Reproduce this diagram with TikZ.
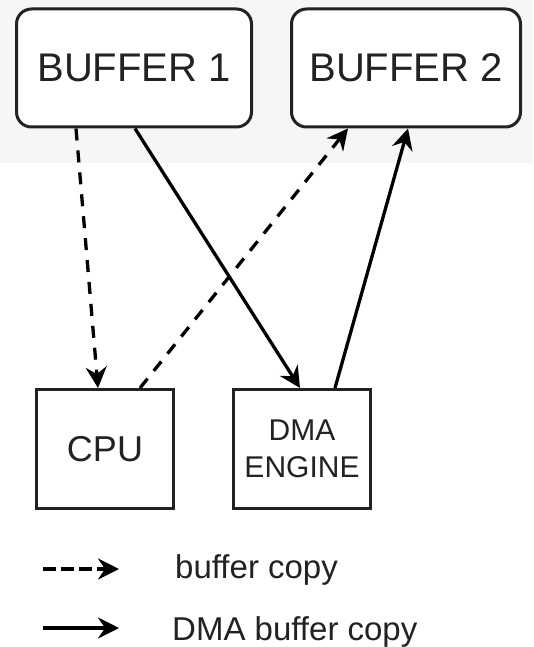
\documentclass[tikz,border=0pt]{standalone}
\usepackage{fontspec}
\setmainfont{Liberation Sans}
\usetikzlibrary{arrows.meta}
\definecolor{inkgray}{RGB}{34,34,34}
\definecolor{topshade}{RGB}{245,246,247}
\tikzset{
  bufferbox/.style={draw=inkgray, line width=3pt, fill=white, rounded corners=15pt,
    minimum width=235pt, minimum height=118pt, inner sep=0pt,
    font=\fontsize{40}{40}\selectfont, text=inkgray},
  unitbox/.style={draw=inkgray, line width=3pt, fill=white,
    minimum width=137pt, minimum height=119pt, inner sep=0pt, text=inkgray},
  flow/.style={line width=3.3pt, draw=black, -{Stealth[length=21pt,width=21pt,inset=7pt]}},
  copyflow/.style={flow, dash pattern=on 12pt off 10pt},
  legendtext/.style={anchor=base west, inner sep=0pt, text=inkgray,
    font=\fontsize{33}{33}\selectfont}
}
\begin{document}
\begin{tikzpicture}[x=1pt, y=-1pt]
\useasboundingbox (0,0) rectangle (533,647);
\fill[white] (0,0) rectangle (533,647);
\fill[topshade] (0,0) rectangle (533,163);

% memory buffers
\node[bufferbox] (b1) at (134,68) {BUFFER 1};
\node[bufferbox, minimum width=229pt] (b2) at (406,68) {BUFFER 2};

% processing units
\node[unitbox, font=\fontsize{36}{36}\selectfont] (cpu) at (105,449) {CPU};
\node[unitbox, align=center, font=\fontsize{30}{37}\selectfont] (dma) at (302,449) {DMA\\ENGINE};

% transfers
\draw[copyflow] ([xshift=-58pt]b1.south) -- ([xshift=-7pt]cpu.north);
\draw[copyflow] ([xshift=35pt]cpu.north) -- ([xshift=-58pt]b2.south);
\draw[flow] ([xshift=1pt]b1.south) -- ([xshift=-2pt]dma.north);
\draw[flow] ([xshift=33pt]dma.north) -- ([xshift=2pt]b2.south);

% legend
\coordinate (l1a) at (43,569);
\coordinate (l1b) at (119,569);
\coordinate (l2a) at (43,628);
\coordinate (l2b) at (119,628);
\draw[flow, dash pattern=on 13pt off 5pt] (l1a) -- (l1b);
\draw[flow] (l2a) -- (l2b);
\node[legendtext] (t1) at (175,578) {buffer copy};
\node[legendtext] (t2) at (172,640) {DMA buffer copy};
\end{tikzpicture}
\end{document}
